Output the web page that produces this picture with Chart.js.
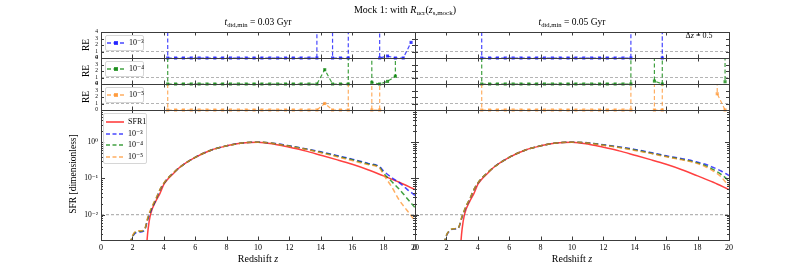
<!DOCTYPE html>
<html>
<head>
<meta charset="utf-8">
<title>Mock 1 SFR</title>
<script src="https://cdn.jsdelivr.net/npm/chart.js@4.4.1/dist/chart.umd.min.js"></script>
<style>
html,body{margin:0;padding:0;background:#fff}
#fig{position:relative;width:810px;height:270px;overflow:hidden;font-family:"Liberation Serif","DejaVu Serif",serif;color:#000}
#fig canvas{position:absolute;left:0;top:0}
.t{position:absolute;white-space:nowrap;transform:translate(-50%,-50%);line-height:1}
.t.rot{transform:translate(-50%,-50%) rotate(-90deg)}
.s{font-size:70%;position:relative;top:0.35em}
.leg{position:absolute;border:1px solid #d6d6d6;border-radius:2px;background:rgba(255,255,255,0.85)}
.li{position:absolute;display:flex;align-items:center;font-size:8px;white-space:nowrap;line-height:1}
.li svg{margin-right:4px}
</style>
</head>
<body>
<div id="fig">
<canvas id="c0" width="810" height="270"></canvas>
<canvas id="c1" width="810" height="270"></canvas>
<canvas id="c2" width="810" height="270"></canvas>
<canvas id="c3" width="810" height="270"></canvas>
<canvas id="c4" width="810" height="270"></canvas>
<canvas id="c5" width="810" height="270"></canvas>
<canvas id="c6" width="810" height="270"></canvas>
<canvas id="c7" width="810" height="270"></canvas>

<div class="t" style="left:405px;top:10px;font-size:10px">Mock 1: with <i>R</i><span class="s">ucr</span>(<i>z</i><span class="s">s,mock</span>)</div>
<div class="t" style="left:258px;top:23px;font-size:9.5px"><i>t</i><span class="s">dtd,min</span> = 0.03 Gyr</div>
<div class="t" style="left:572px;top:23px;font-size:9.5px"><i>t</i><span class="s">dtd,min</span> = 0.05 Gyr</div>
<div class="t" style="left:699px;top:36px;font-size:8px">&Delta;<i>z</i> = 0.5</div>
<div class="t" style="left:258px;top:259px;font-size:10px">Redshift <i>z</i></div>
<div class="t" style="left:572px;top:259px;font-size:10px">Redshift <i>z</i></div>
<div class="t rot" style="left:74px;top:174px;font-size:9.5px">SFR [dimensionless]</div>
<div class="t rot" style="left:87px;top:45px;font-size:9.5px">RE</div>
<div class="t rot" style="left:87px;top:71px;font-size:9.5px">RE</div>
<div class="t rot" style="left:87px;top:97px;font-size:9.5px">RE</div>
<div id="legends"></div>
</div>

<script>
// x axis: redshift
const Z_TICKS = [0,2,4,6,8,10,12,14,16,18,20]

// relative error panels, sampled every dz = 0.5
const RE_Z = [3.75,4.25,4.75,5.25,5.75,6.25,6.75,7.25,7.75,8.25,8.75,9.25,9.75,10.25,10.75,11.25,11.75,12.25,12.75,13.25,13.75,
  14.25,14.75,15.25,15.75,16.25,16.75,17.25,17.75,18.25,18.75,19.25,19.75]
const OFF = 1000 // value far above the top of the RE panels
const RE_TICKS = [0,1,2,3,4]
const RE_REF = 1

// t_dtd,min = 0.03 Gyr
const RE3_A = [OFF,0,0,0,0,0,0,0,0,0,0,0,0,0,0,0,0,0,0,0,0, OFF,0,0,0,OFF,OFF,OFF,0,0.3,0,0,2.4]
const RE4_A = [OFF,0,0,0,0,0,0,0,0,0,0,0,0,0,0,0,0,0,0,0,0, 2.2,0,0,0,OFF,OFF,0.25,0,0.4,1.2,OFF,OFF]
const RE5_A = [OFF,0,0,0,0,0,0,0,0,0,0,0,0,0,0,0,0,0,0,0,0, 1.0,0,0,0,OFF,OFF,0,0,OFF,OFF,OFF,OFF]
// t_dtd,min = 0.05 Gyr
const RE3_B = [OFF,0,0,0,0,0,0,0,0,0,0,0,0,0,0,0,0,0,0,0,0, OFF,OFF,OFF,0,OFF,OFF,OFF,OFF,OFF,OFF,OFF,OFF]
const RE4_B = [OFF,0,0,0,0,0,0,0,0,0,0,0,0,0,0,0,0,0,0,0,0, OFF,OFF,0.45,0,OFF,OFF,OFF,OFF,OFF,OFF,OFF,0.35]
const RE5_B = [OFF,0,0,0,0,0,0,0,0,0,0,0,0,0,0,0,0,0,0,0,0, OFF,OFF,0,0,OFF,OFF,OFF,OFF,OFF,OFF,2.5,0]

// SFR panels
const SFR_MIN = 0.002
const SFR_MAX = 7.7
const SFR_REF = 0.01
const SFR_LABELS = {0.01:'10\u207B\u00B2', 0.1:'10\u207B\u00B9', 1:'10\u2070'}

const SFR1_Z = [2.9,2.93,3,3.15,3.5,3.75,4,4.25,4.5,5,6,7,8,9,10,11,12,13,14,15,16,17,18,19,20]
const SFR1 = [0.0012,0.0019,0.004,0.01,0.024,0.038,0.068,0.095,0.122,0.2,0.38,0.6,0.79,0.95,1,0.89,0.72,0.575,0.437,0.33,0.245,0.174,0.117,0.078,0.049]

const SFR_Z = [1.85,2,2.25,2.5,2.75,3,3.25,3.5,3.75,4,4.25,4.5,5,6,7,8,9,10,11,12,13,14,15,16,17,17.75,18,18.5,19,19.5,20]
const SFR3_A = [0.0016,0.0024,0.0032,0.0033,0.0036,0.0079,0.015,0.026,0.047,0.072,0.1,0.128,0.2,0.38,0.6,0.79,0.95,1,0.93,0.79,0.66,0.54,0.43,0.34,0.26,0.21,0.16,0.107,0.076,0.05,0.034]
const SFR4_A = [0.0016,0.0025,0.0034,0.0035,0.0037,0.0085,0.016,0.027,0.048,0.073,0.1,0.128,0.2,0.38,0.6,0.79,0.95,1,0.92,0.78,0.65,0.525,0.415,0.325,0.25,0.2,0.14,0.083,0.05,0.028,0.0155]
const SFR5_A = [0.0016,0.0026,0.0035,0.0036,0.0038,0.009,0.017,0.028,0.049,0.074,0.101,0.129,0.2,0.38,0.6,0.79,0.95,1,0.92,0.77,0.64,0.51,0.4,0.31,0.24,0.19,0.125,0.06,0.025,0.013,0.0068]
const SFR3_B = [0.0016,0.0026,0.0037,0.004,0.0042,0.0085,0.016,0.027,0.048,0.073,0.1,0.128,0.2,0.38,0.6,0.79,0.95,1,0.96,0.85,0.74,0.63,0.52,0.42,0.35,0.3,0.28,0.245,0.2,0.16,0.12]
const SFR4_B = [0.0016,0.0027,0.0038,0.0041,0.0043,0.009,0.017,0.028,0.049,0.074,0.101,0.129,0.2,0.38,0.6,0.79,0.95,1,0.95,0.83,0.72,0.61,0.5,0.405,0.335,0.285,0.265,0.225,0.175,0.13,0.085]
const SFR5_B = [0.0016,0.0027,0.0038,0.0041,0.0043,0.009,0.017,0.028,0.049,0.074,0.101,0.129,0.2,0.38,0.6,0.79,0.95,1,0.95,0.82,0.71,0.59,0.49,0.395,0.325,0.275,0.255,0.21,0.16,0.11,0.06]

const NAMES = ['SFR1','10\u207B\u00B3','10\u207B\u2074','10\u207B\u2075']

const RED = 'rgba(255,30,30,0.85)'
const BLUE = 'rgba(10,10,255,0.75)'
const GREEN = 'rgba(0,128,0,0.75)'
const ORANGE = 'rgba(255,140,30,0.7)'
const GREY = '#b4b4b4'

const FONT = "'Liberation Serif','DejaVu Serif',serif"
Chart.defaults.font.family = FONT
Chart.defaults.color = '#000'

// panel boxes (pixels)
const COLS = [{left:101,right:415,labels:true},{left:415,right:729,labels:false}]
const ROWS = [{top:32,bottom:58},{top:58,bottom:84},{top:84,bottom:110},{top:110,bottom:240}]

function pts(zs, vals){
  return zs.map((z,i)=>({x:z,y:vals[i]}))
}

function refSet(v){
  return {data:[{x:0,y:v},{x:20,y:v}], borderColor:GREY, borderWidth:1.2, borderDash:[3,2],
    pointRadius:0, order:9}
}

function reSet(vals,color){
  return {data:pts(RE_Z,vals), borderColor:color, backgroundColor:color, borderWidth:1.2,
    borderDash:[4,2.5], pointStyle:'rect', pointRadius:2.2, pointBorderWidth:0, tension:0,
    clip:{left:5,right:5,top:0,bottom:3}, order:1}
}

function sfrSet(zs,vals,color,dash,order){
  return {data:pts(zs,vals), borderColor:color, borderWidth:1.5, borderDash:dash,
    pointRadius:0, cubicInterpolationMode:'monotone', order:order}
}

// frame + inward ticks like the matplotlib axes
function frame(yTicks){
  return {
    id:'frame',
    afterDatasetsDraw(chart){
      const {ctx, chartArea:a} = chart
      const x = chart.scales.x, y = chart.scales.y
      ctx.save()
      ctx.strokeStyle = '#3c3c3c'
      ctx.lineWidth = 1
      ctx.beginPath()
      Z_TICKS.forEach(v=>{
        const px = Math.round(x.getPixelForValue(v))+0.5
        ctx.moveTo(px,a.bottom); ctx.lineTo(px,a.bottom-3.5)
        ctx.moveTo(px,a.top); ctx.lineTo(px,a.top+3.5)
      })
      yTicks.forEach(t=>{
        const py = Math.round(y.getPixelForValue(t.v))+0.5
        ctx.moveTo(a.left,py); ctx.lineTo(a.left+t.len,py)
        ctx.moveTo(a.right,py); ctx.lineTo(a.right-t.len,py)
      })
      ctx.stroke()
      ctx.strokeRect(Math.round(a.left)+0.5,Math.round(a.top)+0.5,Math.round(a.right-a.left),Math.round(a.bottom-a.top))
      ctx.restore()
    }
  }
}

const reTicks = RE_TICKS.map(v=>({v:v,len:3}))
const logTicks = []
for(let k=-3;k<=0;k++){
  for(let m=1;m<=9;m++){
    const v = m*Math.pow(10,k)
    if(v>=SFR_MIN && v<=SFR_MAX) logTicks.push({v:v,len:m===1?4:2})
  }
}

function panel(id,col,row,datasets,main){
  const yW = col.labels ? 30 : 0
  const xH = main ? 14 : 0
  new Chart(document.getElementById(id),{
    type:'line',
    data:{datasets:datasets},
    options:{
      responsive:false,
      animation:false,
      devicePixelRatio:1,
      events:[],
      layout:{padding:{left:col.left-yW,right:810-col.right,top:row.top,bottom:270-row.bottom-xH}},
      plugins:{legend:{display:false},tooltip:{enabled:false}},
      scales:{
        x:{type:'linear',min:0,max:20,display:main,
          grid:{display:false,drawTicks:false},border:{display:false},
          ticks:{stepSize:2,padding:3,autoSkip:false,maxRotation:0,font:{size:8}},
          afterFit(s){s.height=xH}},
        y: main ? {
          type:'logarithmic',min:SFR_MIN,max:SFR_MAX,display:col.labels,
          grid:{display:false,drawTicks:false},border:{display:false},
          ticks:{autoSkip:false,padding:3,font:{size:7.5},callback:v=>SFR_LABELS[v]||''},
          afterFit(s){s.width=yW}
        } : {
          type:'linear',min:0,max:4,display:col.labels,
          grid:{display:false,drawTicks:false},border:{display:false},
          ticks:{stepSize:1,autoSkip:false,padding:3,font:{size:5.5}},
          afterFit(s){s.width=yW}
        }
      }
    },
    plugins:[frame(main?logTicks:reTicks)]
  })
}

panel('c0',COLS[0],ROWS[0],[refSet(RE_REF),reSet(RE3_A,BLUE)],false)
panel('c1',COLS[0],ROWS[1],[refSet(RE_REF),reSet(RE4_A,GREEN)],false)
panel('c2',COLS[0],ROWS[2],[refSet(RE_REF),reSet(RE5_A,ORANGE)],false)
panel('c3',COLS[0],ROWS[3],[refSet(SFR_REF),sfrSet(SFR1_Z,SFR1,RED,[],4),
  sfrSet(SFR_Z,SFR3_A,BLUE,[5,3],3),sfrSet(SFR_Z,SFR4_A,GREEN,[5,3],2),sfrSet(SFR_Z,SFR5_A,ORANGE,[5,3],1)],true)
panel('c4',COLS[1],ROWS[0],[refSet(RE_REF),reSet(RE3_B,BLUE)],false)
panel('c5',COLS[1],ROWS[1],[refSet(RE_REF),reSet(RE4_B,GREEN)],false)
panel('c6',COLS[1],ROWS[2],[refSet(RE_REF),reSet(RE5_B,ORANGE)],false)
panel('c7',COLS[1],ROWS[3],[refSet(SFR_REF),sfrSet(SFR1_Z,SFR1,RED,[],4),
  sfrSet(SFR_Z,SFR3_B,BLUE,[5,3],3),sfrSet(SFR_Z,SFR4_B,GREEN,[5,3],2),sfrSet(SFR_Z,SFR5_B,ORANGE,[5,3],1)],true)

// legends
function sample(color,dash,marker){
  return '<svg width="18" height="6"><line x1="0" y1="3" x2="18" y2="3" stroke="'+color+'" stroke-width="1.6"'+
    (dash?' stroke-dasharray="'+dash+'"':'')+'/>'+
    (marker?'<rect x="7" y="1" width="4" height="4" fill="'+color+'"/>':'')+'</svg>'
}
let html = '<div class="leg" style="left:103px;top:113px;width:42px;height:49px"></div>'
const mainCols = [[RED,''],[BLUE,'4,2.5'],[GREEN,'4,2.5'],[ORANGE,'4,2.5']]
mainCols.forEach((c,i)=>{
  html += '<div class="li" style="left:106px;top:'+(118+i*11.6)+'px">'+sample(c[0],c[1],false)+NAMES[i]+'</div>'
})
const reCols = [BLUE,GREEN,ORANGE]
reCols.forEach((c,i)=>{
  const top = ROWS[i].top
  html += '<div class="leg" style="left:105px;top:'+(top+3)+'px;width:37px;height:14px"></div>'
  html += '<div class="li" style="left:107px;top:'+(top+7)+'px">'+sample(c,'4,2.5',true)+NAMES[i+1]+'</div>'
})
document.getElementById('legends').innerHTML = html
</script>
</body>
</html>
